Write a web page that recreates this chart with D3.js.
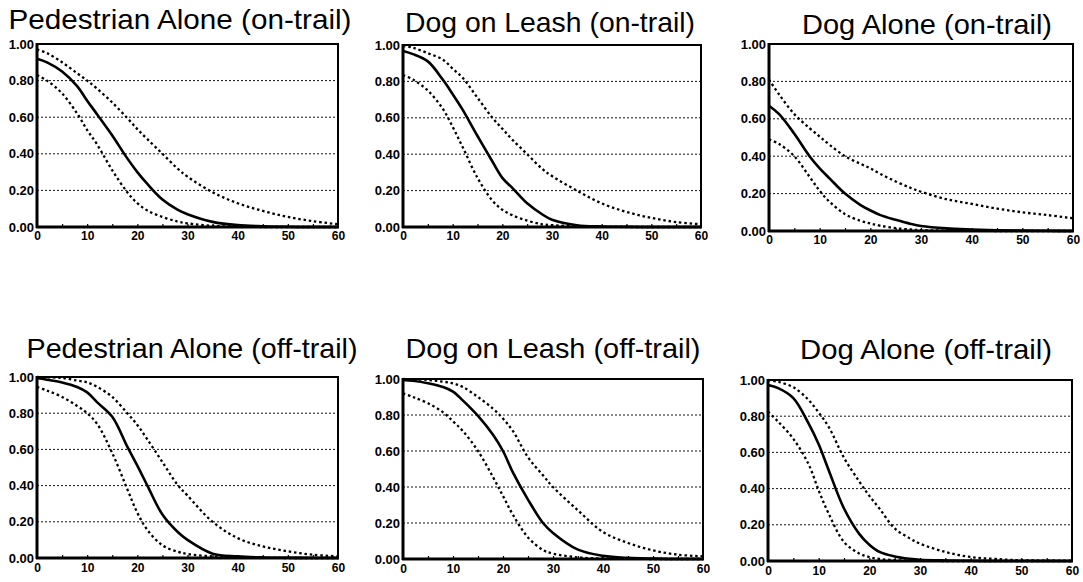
<!DOCTYPE html>
<html lang="en"><head>
<meta charset="UTF-8">
<title>Survival curves</title>
<script src="https://cdn.jsdelivr.net/npm/d3@7/dist/d3.min.js"></script>
<style>
  body { margin: 0; background: #fff; }
  text { font-family: "Liberation Sans", Arial, sans-serif; fill: #000; }
</style>
</head>
<body>
<svg id="vis" width="1083" height="582"></svg>
<script>
var xs = [0, 2, 5, 8, 10, 12, 15, 18, 20, 22, 25, 28, 30, 35, 40, 45, 50, 55, 60];
var xTicks = [0, 10, 20, 30, 40, 50, 60];
var yTicks = [0, 0.2, 0.4, 0.6, 0.8, 1];
var gridTicks = [0.2, 0.4, 0.6, 0.8];

var titles = [
  "Pedestrian Alone (on-trail)", "Dog on Leash (on-trail)", "Dog Alone (on-trail)",
  "Pedestrian Alone (off-trail)", "Dog on Leash (off-trail)", "Dog Alone (off-trail)"
];

// estimate (solid) and upper / lower bounds (dotted)
var paOnMid = [0.92, 0.90, 0.85, 0.77, 0.69, 0.615, 0.50, 0.375, 0.30, 0.235, 0.15, 0.095, 0.07, 0.028, 0.01, 0.004, 0.001, 0, 0];
var paOnHi  = [0.97, 0.95, 0.90, 0.84, 0.80, 0.755, 0.68, 0.595, 0.535, 0.48, 0.40, 0.32, 0.275, 0.19, 0.13, 0.088, 0.055, 0.032, 0.015];
var paOnLo  = [0.83, 0.80, 0.73, 0.62, 0.53, 0.45, 0.31, 0.19, 0.13, 0.09, 0.055, 0.03, 0.02, 0.006, 0.002, 0, 0, 0, 0];

var dlOnMid = [0.967, 0.95, 0.91, 0.81, 0.73, 0.645, 0.50, 0.36, 0.27, 0.215, 0.13, 0.07, 0.04, 0.01, 0.003, 0.001, 0, 0, 0];
var dlOnHi  = [0.995, 0.985, 0.955, 0.92, 0.87, 0.82, 0.71, 0.60, 0.54, 0.48, 0.40, 0.32, 0.28, 0.20, 0.13, 0.083, 0.05, 0.027, 0.015];
var dlOnLo  = [0.835, 0.81, 0.75, 0.65, 0.55, 0.44, 0.27, 0.145, 0.095, 0.065, 0.035, 0.015, 0.01, 0.003, 0.001, 0, 0, 0, 0];

var daOnMid = [0.67, 0.625, 0.52, 0.40, 0.335, 0.28, 0.20, 0.14, 0.11, 0.085, 0.06, 0.038, 0.027, 0.014, 0.008, 0.004, 0.002, 0.001, 0];
var daOnHi  = [0.81, 0.73, 0.625, 0.55, 0.505, 0.46, 0.40, 0.36, 0.335, 0.305, 0.265, 0.23, 0.21, 0.17, 0.145, 0.12, 0.10, 0.085, 0.068];
var daOnLo  = [0.49, 0.465, 0.40, 0.29, 0.215, 0.155, 0.09, 0.055, 0.04, 0.028, 0.015, 0.008, 0.005, 0.002, 0.001, 0, 0, 0, 0];

var paOffMid = [0.995, 0.985, 0.97, 0.945, 0.915, 0.86, 0.78, 0.615, 0.51, 0.40, 0.24, 0.145, 0.10, 0.024, 0.009, 0.003, 0.001, 0, 0];
var paOffHi  = [1.0, 0.998, 0.995, 0.98, 0.97, 0.945, 0.89, 0.80, 0.735, 0.655, 0.53, 0.405, 0.345, 0.20, 0.11, 0.064, 0.037, 0.018, 0.009];
var paOffLo  = [0.945, 0.925, 0.89, 0.84, 0.80, 0.74, 0.58, 0.38, 0.25, 0.155, 0.07, 0.035, 0.022, 0.009, 0.003, 0.001, 0, 0, 0];

var dlOffMid = [0.995, 0.99, 0.976, 0.955, 0.93, 0.88, 0.795, 0.69, 0.60, 0.48, 0.33, 0.20, 0.145, 0.052, 0.018, 0.006, 0.002, 0, 0];
var dlOffHi  = [1.0, 0.998, 0.995, 0.985, 0.976, 0.955, 0.90, 0.835, 0.78, 0.71, 0.565, 0.465, 0.40, 0.27, 0.15, 0.089, 0.048, 0.024, 0.015];
var dlOffLo  = [0.92, 0.90, 0.865, 0.815, 0.765, 0.71, 0.60, 0.455, 0.35, 0.245, 0.12, 0.05, 0.03, 0.009, 0.003, 0.001, 0, 0, 0];

var daOffMid = [0.972, 0.955, 0.90, 0.76, 0.645, 0.50, 0.29, 0.15, 0.09, 0.05, 0.025, 0.012, 0.007, 0.003, 0.001, 0, 0, 0, 0];
var daOffHi  = [1.0, 0.99, 0.96, 0.89, 0.82, 0.74, 0.57, 0.44, 0.36, 0.29, 0.18, 0.125, 0.096, 0.05, 0.022, 0.011, 0.004, 0.002, 0];
var daOffLo  = [0.825, 0.77, 0.675, 0.535, 0.39, 0.26, 0.105, 0.042, 0.022, 0.011, 0.005, 0.002, 0.001, 0, 0, 0, 0, 0, 0];

var series = [
  [paOnMid, paOnHi, paOnLo], [dlOnMid, dlOnHi, dlOnLo], [daOnMid, daOnHi, daOnLo],
  [paOffMid, paOffHi, paOffLo], [dlOffMid, dlOffHi, dlOffLo], [daOffMid, daOffHi, daOffLo]
];

// where each panel sits on the page
var layout = [
  {x0: 37,  x1: 338,  y0: 44,  y1: 227, tx: 180, ty: 29,  tw: 343, lab: 14},
  {x0: 403, x1: 701,  y0: 45,  y1: 227, tx: 550, ty: 32,  tw: 290, lab: 14},
  {x0: 769, x1: 1073, y0: 44,  y1: 231, tx: 927, ty: 34,  tw: 250, lab: 14},
  {x0: 37,  x1: 338,  y0: 377, y1: 558, tx: 192, ty: 358, tw: 331, lab: 15},
  {x0: 403, x1: 703,  y0: 379, y1: 559, tx: 553, ty: 358, tw: 295, lab: 15},
  {x0: 768, x1: 1072, y0: 380, y1: 561, tx: 926, ty: 359, tw: 252, lab: 15}
];

var svg = d3.select("#vis");

for (var p = 0; p < layout.length; p++) {
  var L = layout[p];
  var g = svg.append("g");

  var x = d3.scaleLinear().domain([0, 60]).range([L.x0, L.x1]);
  var y = d3.scaleLinear().domain([0, 1]).range([L.y1, L.y0]);

  g.append("text")
    .attr("x", L.tx).attr("y", L.ty)
    .attr("text-anchor", "middle")
    .attr("font-size", 28)
    .attr("textLength", L.tw)
    .attr("lengthAdjust", "spacingAndGlyphs")
    .text(titles[p]);

  // dotted horizontal grid
  g.selectAll(".grid").data(gridTicks).enter().append("line")
    .attr("x1", L.x0).attr("x2", L.x1)
    .attr("y1", function(d){ return y(d); })
    .attr("y2", function(d){ return y(d); })
    .attr("stroke", "#111").attr("stroke-width", 1)
    .attr("stroke-dasharray", "2,2");

  // curves
  var line = d3.line()
    .x(function(d, i){ return x(xs[i]); })
    .y(function(d){ return y(Math.max(0, d)); })
    .curve(d3.curveCatmullRom.alpha(0.5));

  for (var s = 2; s >= 0; s--) {
    var path = g.append("path")
      .attr("d", line(series[p][s]))
      .attr("fill", "none")
      .attr("stroke", "#000");
    if (s == 0) {
      path.attr("stroke-width", 2.6);
    } else {
      path.attr("stroke-width", 2.3).attr("stroke-dasharray", "2.5,2.8");
    }
  }

  // frame
  g.append("rect")
    .attr("x", L.x0).attr("y", L.y0)
    .attr("width", L.x1 - L.x0).attr("height", L.y1 - L.y0)
    .attr("fill", "none").attr("stroke", "#000").attr("stroke-width", 2);

  // small inner ticks on the x axis
  var minor = g.append("g").attr("transform", "translate(0," + L.y1 + ")")
    .call(d3.axisBottom(x).tickValues(d3.range(5, 60, 5)).tickSize(-3).tickFormat(""));
  minor.select(".domain").remove();
  minor.selectAll("line").attr("stroke-width", 1.2);

  // thicker left and bottom axis lines
  g.append("line").attr("x1", L.x0).attr("x2", L.x0).attr("y1", L.y0 - 1).attr("y2", L.y1 + 1)
    .attr("stroke", "#000").attr("stroke-width", 3);
  g.append("line").attr("x1", L.x0 - 1).attr("x2", L.x1 + 1).attr("y1", L.y1).attr("y2", L.y1)
    .attr("stroke", "#000").attr("stroke-width", 3);

  var ya = g.append("g").attr("transform", "translate(" + L.x0 + ",0)")
    .call(d3.axisLeft(y).tickValues(yTicks).tickFormat(d3.format(".2f")).tickSize(0).tickPadding(3));
  ya.select(".domain").remove();
  ya.selectAll("text").attr("font-size", 13).attr("font-weight", "bold")
    .attr("font-family", "'Liberation Sans', Arial, sans-serif");

  var xa = g.append("g").attr("transform", "translate(0," + L.y1 + ")")
    .call(d3.axisBottom(x).tickValues(xTicks).tickSize(0).tickPadding(L.lab - 10));
  xa.select(".domain").remove();
  xa.selectAll("text").attr("font-size", 12).attr("font-weight", "bold")
    .attr("font-family", "'Liberation Sans', Arial, sans-serif");
}
</script>
</body></html>
